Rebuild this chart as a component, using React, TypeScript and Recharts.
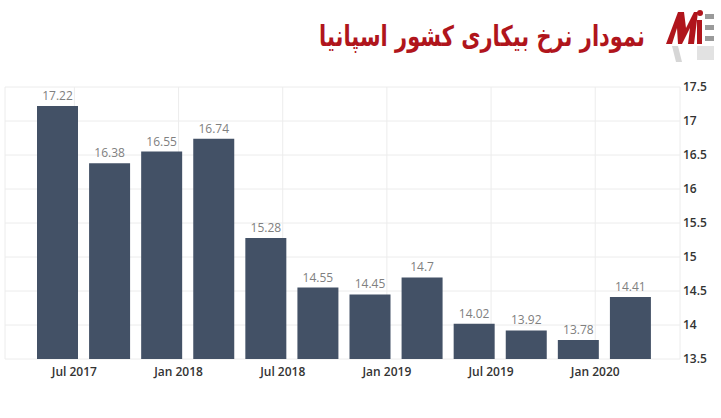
import { BarChart, Bar, XAxis, YAxis, CartesianGrid, LabelList } from "recharts";

// Spain unemployment rate, quarterly (Q2 2017 .. Q1 2020)
const quarters = [
  "Q2 2017", "Q3 2017", "Q4 2017", "Q1 2018",
  "Q2 2018", "Q3 2018", "Q4 2018", "Q1 2019",
  "Q2 2019", "Q3 2019", "Q4 2019", "Q1 2020",
];
const rates = [17.22, 16.38, 16.55, 16.74, 15.28, 14.55, 14.45, 14.7, 14.02, 13.92, 13.78, 14.41];

// months counted from Jan 2017; each bar sits one month before its label tick
const barMonths = [5, 8, 11, 14, 17, 20, 23, 26, 29, 32, 35, 38];
const tickMonths = [6, 12, 18, 24, 30, 36];
const tickLabels = ["Jul 2017", "Jan 2018", "Jul 2018", "Jan 2019", "Jul 2019", "Jan 2020"];
const yTicks = [13.5, 14, 14.5, 15, 15.5, 16, 16.5, 17, 17.5];

const title = "نمودار نرخ بیکاری کشور اسپانیا";

const data = quarters.map((q, i) => ({ q, rate: rates[i], m: barMonths[i] }));

const axisPad = { left: 26, right: 24 };

function Logo() {
  return (
    <svg width={52} height={60} style={{ position: "absolute", left: 664, top: 6 }}>
      <polygon points="2,38 14,6 20,6 22,22 30,6 34,6 30,38 24,38 26,22 18,38 14,38 13,22 8,38" fill="#b0151c" />
      <circle cx="36" cy="7" r="3" fill="#b0151c" />
      <rect x="33" y="14" width="5" height="24" fill="#b0151c" />
      <rect x="41" y="8" width="9" height="5" fill="#9a9a9a" />
      <rect x="41" y="19" width="9" height="5" fill="#9a9a9a" />
      <rect x="41" y="30" width="9" height="5" fill="#9a9a9a" />
      <polygon points="8,40 14,40 18,56 12,56" fill="#d6d6d6" />
      <rect x="33" y="40" width="17" height="14" fill="#e2e2e2" />
    </svg>
  );
}

export default function App() {
  return (
    <div style={{ position: "absolute", left: 0, top: 0, width: 721, height: 418, background: "#fff" }}>
      <div
        dir="rtl"
        style={{
          position: "absolute",
          right: 76,
          top: 19,
          fontFamily: "'DejaVu Sans', sans-serif",
          fontWeight: "bold",
          fontSize: 21,
          lineHeight: "26px",
          color: "#b0151c",
          whiteSpace: "nowrap",
          transform: "scaleY(1.35)",
          transformOrigin: "right top",
        }}
      >
        {title}
      </div>
      <Logo />
      <BarChart
        width={721}
        height={418}
        data={data}
        margin={{ top: 87, right: 0, bottom: 0, left: 5 }}
        style={{ position: "absolute", left: 0, top: 0 }}
      >
        <CartesianGrid stroke="#ececec" xAxisId="time" />
        <XAxis dataKey="q" hide height={0} padding={axisPad} />
        <XAxis
          xAxisId="time"
          dataKey="m"
          type="number"
          domain={[3.5, 39.5]}
          ticks={tickMonths}
          tickFormatter={(v: number) => tickLabels[tickMonths.indexOf(v)]}
          padding={axisPad}
          height={59}
          axisLine={false}
          tickLine={false}
          tickSize={0}
          tickMargin={8}
          tick={{ fill: "#333", fontSize: 12, fontFamily: "'Open Sans', sans-serif", fontWeight: 600 }}
        />
        <YAxis
          orientation="right"
          domain={[13.5, 17.5]}
          ticks={yTicks}
          width={41}
          axisLine={false}
          tickLine={false}
          tickSize={0}
          tickMargin={3}
          interval={0}
          tick={{ fill: "#333", fontSize: 12, fontFamily: "'Open Sans', sans-serif", fontWeight: 600 }}
        />
        <Bar dataKey="rate" fill="#435166" barSize={41} isAnimationActive={false}>
          <LabelList
            dataKey="rate"
            position="top"
            offset={6}
            fill="#808080"
            fontSize={12}
            fontFamily="'Open Sans', sans-serif"
          />
        </Bar>
      </BarChart>
    </div>
  );
}
